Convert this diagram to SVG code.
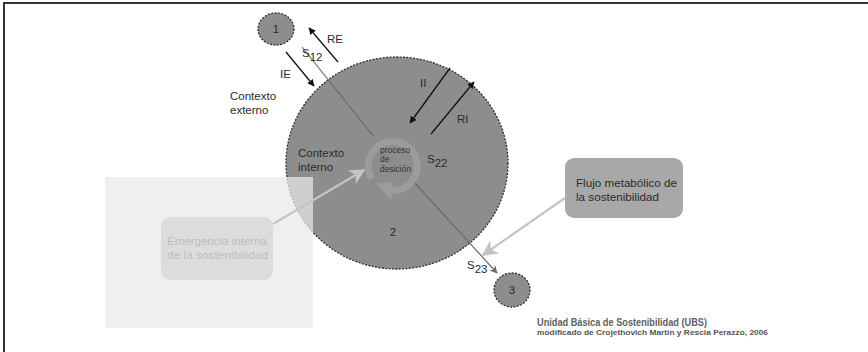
<svg xmlns="http://www.w3.org/2000/svg" width="868" height="352" viewBox="0 0 868 352">
  <style>
    text { font-family: "Liberation Sans", Arial, sans-serif; fill: #2b2b2b; }
    .lbl { font-size: 11.5px; }
    .sm { font-size: 8.5px; fill: #333; }
    .disc { fill: #8d8d8d; stroke: #2e2e2e; stroke-width: 1.3; stroke-dasharray: 2 1.4; }
    .flow { stroke: #6b6b6b; stroke-width: 1.2; fill: none; }
    .blk { stroke: #111; stroke-width: 1.3; fill: none; }
    .pale { stroke: #c4c4c4; stroke-width: 2.2; fill: none; }
  </style>
  <defs>
    <marker id="ah-black" viewBox="0 0 10 10" refX="9" refY="5" markerWidth="7" markerHeight="7" orient="auto" markerUnits="userSpaceOnUse">
      <path d="M0,0 L10,5 L0,10 Z" fill="#111"/>
    </marker>
    <marker id="ah-grey" viewBox="0 0 10 10" refX="9" refY="5" markerWidth="8" markerHeight="8" orient="auto" markerUnits="userSpaceOnUse">
      <path d="M0,0 L10,5 L0,10 L3,5 Z" fill="#6b6b6b"/>
    </marker>
    <marker id="ah-pale" viewBox="0 0 10 10" refX="9" refY="5" markerWidth="16" markerHeight="16" orient="auto" markerUnits="userSpaceOnUse">
      <path d="M0,0 L10,5 L0,10 L3,5 Z" fill="#c4c4c4"/>
    </marker>
  </defs>

  <!-- frame -->
  <path d="M4,352 V3 H868" fill="none" stroke="#333" stroke-width="2"/>

  <!-- unit 2: main disc -->
  <g id="node-2">
    <ellipse class="disc" cx="397" cy="163" rx="111" ry="106"/>
    <text class="lbl" x="393" y="236" text-anchor="middle">2</text>
  </g>

  <!-- external / internal context labels -->
  <g id="ctx-externo">
    <text class="lbl" x="230" y="100">Contexto</text>
    <text class="lbl" x="230" y="114">externo</text>
  </g>
  <g id="ctx-interno">
    <text class="lbl" x="298" y="157">Contexto</text>
    <text class="lbl" x="298" y="171">interno</text>
  </g>

  <!-- unit 1 and 3 -->
  <g id="node-1">
    <ellipse class="disc" cx="276" cy="29" rx="18" ry="16"/>
    <text class="lbl" x="276" y="33" text-anchor="middle" font-size="10">1</text>
  </g>
  <g id="node-3">
    <ellipse class="disc" cx="512" cy="290" rx="18" ry="17"/>
    <text class="lbl" x="512" y="294" text-anchor="middle" font-size="10">3</text>
  </g>

  <!-- connectors -->
  <g id="connectors">
    <!-- S12 / S23 flow axis -->
    <line class="flow" x1="302" y1="47" x2="374" y2="137"/>
    <line class="flow" x1="414" y1="182" x2="497" y2="273" marker-end="url(#ah-grey)"/>
    <!-- external input / return -->
    <line class="blk" x1="286" y1="52" x2="314" y2="86" marker-end="url(#ah-black)"/>
    <line class="blk" x1="338" y1="62" x2="309" y2="28" marker-end="url(#ah-black)"/>
    <!-- internal input / return -->
    <line class="blk" x1="450" y1="68" x2="410" y2="123" marker-end="url(#ah-black)"/>
    <line class="blk" x1="431" y1="134" x2="474" y2="82" marker-end="url(#ah-black)"/>
  </g>

  <!-- connector labels -->
  <g id="flow-labels">
    <text class="lbl" x="327" y="43">RE</text>
    <text class="lbl" x="280" y="78">IE</text>
    <text class="lbl" x="420" y="87">II</text>
    <text class="lbl" x="457" y="123">RI</text>
    <text class="lbl" x="302" y="57">S<tspan dy="4">12</tspan></text>
    <text class="lbl" x="427" y="163">S<tspan dy="4">22</tspan></text>
    <text class="lbl" x="467" y="269">S<tspan dy="4">23</tspan></text>
  </g>

  <!-- decision process cycle -->
  <g id="node-decision">
    <path d="M372,179 A24.5,24.5 0 1 1 392,190.5" fill="none" stroke="#9c9c9c" stroke-width="7"/>
    <path d="M393,181 L391,200 L377,184 Z" fill="#9c9c9c"/>
    <text class="sm" x="380" y="153">proceso</text>
    <text class="sm" x="380" y="162">de</text>
    <text class="sm" x="380" y="172">desición</text>
  </g>

  <!-- internal emergence panel (translucent over the disc) -->
  <g id="node-emergencia">
    <rect x="105" y="177" width="208" height="151" fill="#e9e9e9" fill-opacity="0.72"/>
    <line class="pale" x1="273" y1="224" x2="364" y2="170" marker-end="url(#ah-pale)"/>
    <rect x="161" y="217" width="112" height="63" rx="9" fill="#dcdcdc"/>
    <text class="lbl" x="167" y="245" font-size="11" style="fill:#bdbdbd" textLength="100" lengthAdjust="spacingAndGlyphs">Emergencia interna</text>
    <text class="lbl" x="167" y="259" font-size="11" style="fill:#bdbdbd" textLength="101" lengthAdjust="spacingAndGlyphs">de la sostenibilidad</text>
  </g>

  <!-- metabolic flow box -->
  <g id="node-flujo">
    <line class="pale" x1="565" y1="198" x2="483" y2="255" marker-end="url(#ah-pale)"/>
    <rect x="565" y="158" width="118" height="60" rx="9" fill="#a8a8a8"/>
    <text class="lbl" x="576" y="187" textLength="101" lengthAdjust="spacingAndGlyphs">Flujo metabólico de</text>
    <text class="lbl" x="576" y="201" textLength="83" lengthAdjust="spacingAndGlyphs">la sostenibilidad</text>
  </g>

  <!-- caption -->
  <g id="caption">
    <text x="537" y="326" font-size="11.5" font-weight="bold" style="fill:#616161" textLength="170" lengthAdjust="spacingAndGlyphs">Unidad Básica de Sostenibilidad (UBS)</text>
    <text x="537" y="335" font-size="8" font-weight="bold" style="fill:#555" textLength="231" lengthAdjust="spacingAndGlyphs">modificado de Crojethovich Martin y Rescia Perazzo, 2006</text>
  </g>
</svg>
